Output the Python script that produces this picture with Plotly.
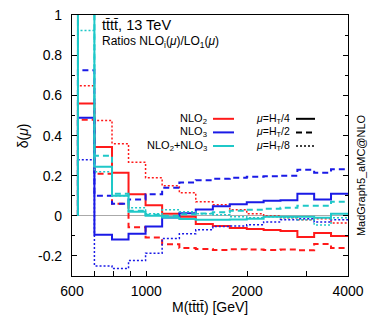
"""
Ratio plot for four-top production: NLO_i(mu)/LO_1(mu) vs M(tttt).
"""

import plotly.graph_objects as go

# Bin edges in M(tttt) [GeV] (log-uniform bins)
BIN_EDGES = [625, 700, 790, 885, 995, 1115, 1255, 1405, 1580, 1775,
             1995, 2240, 2515, 2825, 3170, 3560, 4000]

# NLO2 (red)
nlo2_ht4 = [0.56, 0.344, 0.215, 0.108, 0.053, 0.011, -0.005, -0.04,
            -0.05, -0.06, -0.065, -0.07, -0.075, -0.105, -0.086, -0.10]
nlo2_ht2 = [0.48, 0.21, 0.06, -0.057, -0.108, -0.142, -0.16, -0.165,
            -0.17, -0.167, -0.168, -0.17, -0.168, -0.172, -0.14, -0.16]
nlo2_ht8 = [0.649, 0.476, 0.36, 0.268, 0.19, 0.15, 0.115, 0.07,
            0.055, 0.03, 0.01, 0.0, -0.01, -0.02, -0.015, -0.035]

# NLO3 (blue)
nlo3_ht4 = [0.49, -0.094, -0.118, -0.089, -0.053, -0.008, 0.013, 0.032,
            0.048, 0.058, 0.068, 0.075, 0.078, 0.11, 0.082, 0.11]
nlo3_ht2 = [0.726, 0.10, 0.061, 0.081, 0.108, 0.14, 0.166, 0.178,
            0.185, 0.19, 0.195, 0.197, 0.20, 0.23, 0.215, 0.232]
nlo3_ht8 = [0.28, -0.25, -0.263, -0.223, -0.186, -0.113, -0.089, -0.069,
            -0.053, -0.05, -0.044, -0.03, -0.02, -0.015, -0.03, -0.02]

# NLO2+NLO3 (cyan)
sum_ht4 = [1.05, 0.245, 0.10, 0.02, 0.0, -0.008, -0.016, -0.02,
           -0.02, -0.018, -0.015, -0.005, -0.005, -0.005, -0.01, 0.01]
sum_ht2 = [1.21, 0.30, 0.11, 0.025, 0.005, 0.0, 0.008, 0.012,
           0.018, 0.025, 0.03, 0.035, 0.04, 0.05, 0.05, 0.07]
sum_ht8 = [0.925, 0.22, 0.10, 0.04, 0.01, 0.03, 0.02, 0.01,
           0.005, -0.005, -0.01, -0.005, -0.01, -0.02, -0.045, -0.01]

Y_TICKS = [-0.2, 0, 0.2, 0.4, 0.6, 0.8, 1]
Y_TICK_TEXT = ['-0.2', '0', '0.2', '0.4', '0.6', '0.8', '1']
X_TICKS = [600, 1000, 2000, 4000]
X_MINOR = [700, 800, 900, 3000]

RED = '#ff1a1a'
BLUE = '#1a1ae6'
CYAN = '#1fc8c8'
FONT = 'Liberation Sans, Arial, sans-serif'

# Plot area in pixels (for placing the hand-made legend)
W, H = 374, 328
L, R, T, B = 72, 26, 7, 52
PW, PH = W - L - R, H - T - B


def px(x):
    return (x - L) / PW


def py(y):
    return 1 - (y - T) / PH


def step_trace(vals, color, dash, width):
    # histogram steps starting from zero at the first edge
    xs = [BIN_EDGES[0]] + BIN_EDGES
    ys = [0] + vals + [vals[-1]]
    return go.Scatter(x=xs, y=ys, mode='lines', line_shape='hv',
                      line=dict(color=color, dash=dash, width=width),
                      showlegend=False, hoverinfo='skip')


fig = go.Figure()
series = [
    (nlo2_ht4, RED, 'solid', 2), (nlo2_ht2, RED, '6px,4px', 2), (nlo2_ht8, RED, '2px,2px', 1.5),
    (nlo3_ht4, BLUE, 'solid', 2), (nlo3_ht2, BLUE, '6px,4px', 2), (nlo3_ht8, BLUE, '2px,2px', 1.5),
    (sum_ht4, CYAN, 'solid', 2), (sum_ht2, CYAN, '6px,4px', 2), (sum_ht8, CYAN, '2px,2px', 1.5),
]
for vals, color, dash, width in series:
    fig.add_trace(step_trace(vals, color, dash, width))

# Legend: colour column and scale column
rows = [114, 128, 142]
color_labels = [('NLO<sub>2</sub>', RED), ('NLO<sub>3</sub>', BLUE),
                ('NLO<sub>2</sub>+NLO<sub>3</sub>', CYAN)]
style_labels = [('<i>μ</i>=H<sub>T</sub>/4', 'solid', 2),
                ('<i>μ</i>=H<sub>T</sub>/2', '6px,4px', 2),
                ('<i>μ</i>=H<sub>T</sub>/8', '2px,2px', 1.5)]
for yy, (text, color) in zip(rows, color_labels):
    fig.add_annotation(x=px(209), y=py(yy), xref='paper', yref='paper',
                       text=text, showarrow=False, xanchor='right', yanchor='middle',
                       font=dict(size=11, color='black', family=FONT))
    fig.add_shape(type='line', xref='paper', yref='paper',
                  x0=px(213), x1=px(234), y0=py(yy), y1=py(yy),
                  line=dict(color=color, width=2))
for yy, (text, dash, width) in zip(rows, style_labels):
    fig.add_annotation(x=px(292), y=py(yy), xref='paper', yref='paper',
                       text=text, showarrow=False, xanchor='right', yanchor='middle',
                       font=dict(size=10.5, color='black', family=FONT))
    fig.add_shape(type='line', xref='paper', yref='paper',
                  x0=px(296), x1=px(315), y0=py(yy), y1=py(yy),
                  line=dict(color='black', width=width, dash=dash))

# Titles inside the frame
fig.add_annotation(x=px(100), y=py(17), xref='paper', yref='paper',
                   text='tt̄tt̄, 13 TeV', showarrow=False,
                   xanchor='left', yanchor='middle',
                   font=dict(size=14.5, color='black', family=FONT))
fig.add_annotation(x=px(100), y=py(35), xref='paper', yref='paper',
                   text='Ratios NLO<sub>i</sub>(<i>μ</i>)/LO<sub>1</sub>(<i>μ</i>)',
                   showarrow=False, xanchor='left', yanchor='middle',
                   font=dict(size=12, color='black', family=FONT))

# Axis titles and generator tag
fig.add_annotation(x=px(210), y=py(308), xref='paper', yref='paper',
                   text='M(tt̄tt̄) [GeV]', showarrow=False,
                   xanchor='center', yanchor='middle',
                   font=dict(size=14, color='black', family=FONT))
fig.add_annotation(x=px(23), y=py(132), xref='paper', yref='paper',
                   text='δ(<i>μ</i>)', showarrow=False, textangle=-90,
                   xanchor='center', yanchor='middle',
                   font=dict(size=14, color='black', family=FONT))
fig.add_annotation(x=px(361), y=py(172), xref='paper', yref='paper',
                   text='MadGraph5_aMC@NLO', showarrow=False, textangle=-90,
                   xanchor='center', yanchor='middle',
                   font=dict(size=11, color='black', family=FONT))

fig.update_layout(
    width=W, height=H,
    margin=dict(l=L, r=R, t=T, b=B),
    plot_bgcolor='white', paper_bgcolor='white',
    showlegend=False,
    font=dict(family=FONT, size=14, color='black'),
    xaxis=dict(
        type='log', range=[2.7782, 3.6021],
        tickmode='array', tickvals=X_TICKS, ticktext=[str(v) for v in X_TICKS],
        ticks='inside', ticklen=5, tickcolor='black',
        minor=dict(tickmode='array', tickvals=X_MINOR, ticks='inside',
                   ticklen=5, tickcolor='black'),
        showline=True, linecolor='black', linewidth=1.2, mirror=True,
        showgrid=False, zeroline=False,
        tickfont=dict(size=14), ticklabelstandoff=2, ticklabeloverflow='allow',
    ),
    yaxis=dict(
        range=[-0.3, 1.002],
        tickmode='array', tickvals=Y_TICKS, ticktext=Y_TICK_TEXT,
        ticks='inside', ticklen=5, tickcolor='black',
        minor=dict(dtick=0.1, tick0=0, ticks='inside', ticklen=3, tickcolor='black'),
        showline=True, linecolor='black', linewidth=1.2, mirror='ticks',
        showgrid=False,
        zeroline=True, zerolinecolor='#aaaaaa', zerolinewidth=1,
        tickfont=dict(size=14), ticklabelstandoff=6, ticklabeloverflow='allow',
    ),
)

# drop the default page margin so the figure sits at the window's corner
fig.write_html("out.html", config={'displayModeBar': False},
               post_script="document.body.style.margin='0';")
